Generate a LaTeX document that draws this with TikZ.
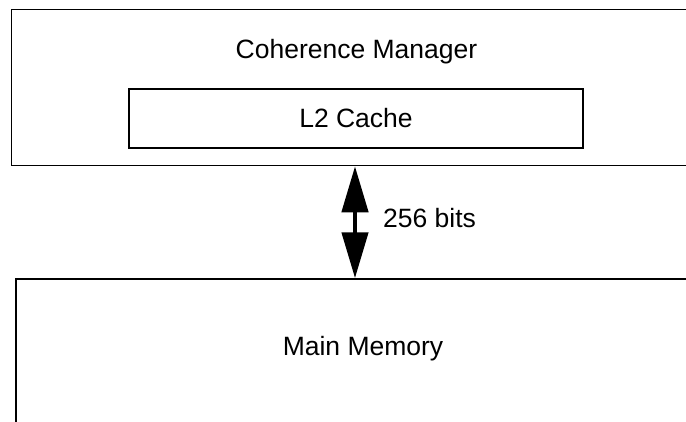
\documentclass[tikz,border=0pt]{standalone}
\usepackage{fontspec}
\setmainfont{Liberation Sans}
\usetikzlibrary{arrows.meta,positioning}
\tikzstyle{block} = [rectangle, draw, line width=1.5pt, inner sep=0pt]
\tikzstyle{txt} = [font=\fontsize{26.5}{32}\selectfont, inner sep=0pt]
\tikzstyle{line} = [draw, line width=4.5pt, {Triangle[length=46pt,width=26pt]}-{Triangle[length=46pt,width=26pt]}]

\begin{document}
\begin{tikzpicture}[x=1pt,y=-1pt]
    \useasboundingbox (0,0) rectangle (686,421);
    \clip (0,0) rectangle (686,421);
    % Place nodes
    \node [block, minimum width=687pt, minimum height=156pt] (cm) at (355,87.5) {};
    \node [txt, anchor=base] (cmname) at (356.5,58) {Coherence Manager};
    \node [block, txt, line width=1.2pt, minimum width=454pt, minimum height=59pt] (cache) at (356,118.5) {L2 Cache};
    \node [block, minimum width=678pt, minimum height=180pt] (mem) at (355,369) {};
    \node [txt, anchor=base] (memname) at (363,355) {Main Memory};
    \node [txt, anchor=base west] (width) at (383,227) {256 bits};
    % Draw edges
    \path [line] (cm) -- (mem);
\end{tikzpicture}
\end{document}
